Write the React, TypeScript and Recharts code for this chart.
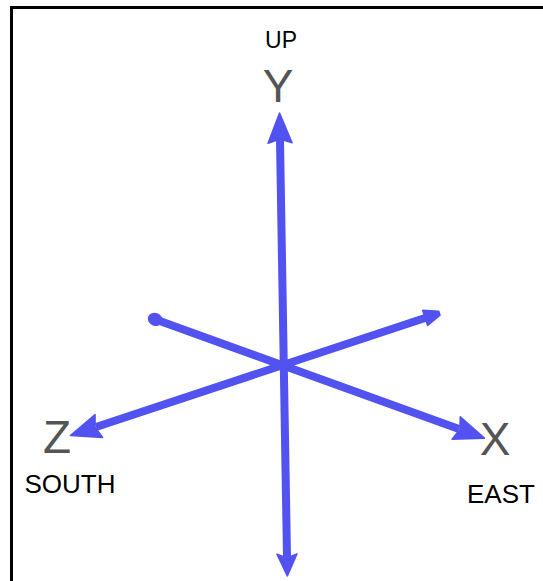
import React from 'react';
import { ComposedChart, Line, Scatter, XAxis, YAxis } from 'recharts';

// Axis segments (data space matches the 543x581 frame)
const upDownAxis = [
  { x: 280, y: 140 },
  { x: 287, y: 557 },
];
const eastAxis = [
  { x: 157, y: 320 },
  { x: 459, y: 429 },
];
const southAxis = [
  { x: 428, y: 317 },
  { x: 96, y: 427 },
];

// Direction words
const directionLabels = [
  { text: 'UP', x: 281, y: 48 },
  { text: 'SOUTH', x: 70, y: 493 },
  { text: 'EAST', x: 501, y: 503 },
];

// Axis letters
const axisLetters = [
  { text: 'Y', x: 278, y: 102 },
  { text: 'Z', x: 57, y: 453 },
  { text: 'X', x: 495, y: 455 },
];

const BLUE = '#5252f0';
const W = 543;
const H = 581;

const WordShape = (p: any) => (
  <text
    x={p.cx}
    y={p.cy}
    textAnchor="middle"
    fontFamily="'Liberation Sans', Arial, sans-serif"
    fontSize={p.payload.text === 'UP' ? 23 : 26}
    fill="#000"
  >
    {p.payload.text}
  </text>
);

const LetterShape = (p: any) => (
  <text
    x={p.cx}
    y={p.cy}
    textAnchor="middle"
    fontFamily="'Liberation Sans', Arial, sans-serif"
    fontSize={46}
    fill="#555"
  >
    {p.payload.text}
  </text>
);

export default function App() {
  return (
    <div style={{ position: 'absolute', left: 0, top: 0, width: W, height: H, background: '#fff', overflow: 'hidden' }}>
      <svg width={0} height={0} style={{ position: 'absolute' }}>
        <defs>
          <marker id="bigHead" markerUnits="userSpaceOnUse" markerWidth={32} markerHeight={26} refX={3} refY={12} orient="auto-start-reverse" style={{ overflow: 'visible' }}>
            <path d="M0,0 L30,12 L0,24 L4,12 Z" fill={BLUE} stroke={BLUE} strokeWidth={1.5} strokeLinejoin="round" />
          </marker>
          <marker id="smallHead" markerUnits="userSpaceOnUse" markerWidth={24} markerHeight={22} refX={3} refY={10} orient="auto-start-reverse" style={{ overflow: 'visible' }}>
            <path d="M0,0 L22,10 L0,20 L4,10 Z" fill={BLUE} stroke={BLUE} strokeWidth={1.5} strokeLinejoin="round" />
          </marker>
          <marker id="tinyHead" markerUnits="userSpaceOnUse" markerWidth={18} markerHeight={16} refX={3} refY={8} orient="auto-start-reverse" style={{ overflow: 'visible' }}>
            <path d="M0,0 L15,6 L15,10 L0,16 Z" fill={BLUE} stroke={BLUE} strokeWidth={1.5} strokeLinejoin="round" />
          </marker>
          <marker id="blob" markerUnits="userSpaceOnUse" markerWidth={16} markerHeight={16} refX={8} refY={8} orient="auto" style={{ overflow: 'visible' }}>
            <ellipse cx={6} cy={8} rx={7.5} ry={6.5} fill={BLUE} />
          </marker>
        </defs>
      </svg>
      <div
        style={{
          position: 'absolute',
          left: 10,
          top: 6,
          width: W - 10,
          height: H - 6,
          borderLeft: '3px solid #000',
          borderTop: '3px solid #000',
          boxSizing: 'border-box',
        }}
      />
      <div style={{ position: 'absolute', left: 0, top: 0 }}>
        <ComposedChart width={W} height={H} margin={{ top: 0, right: 0, bottom: 0, left: 0 }}>
          <XAxis type="number" dataKey="x" domain={[0, W]} hide allowDataOverflow />
          <YAxis type="number" dataKey="y" domain={[0, H]} reversed hide allowDataOverflow />
          <Line
            data={eastAxis}
            dataKey="y"
            type="linear"
            stroke={BLUE}
            strokeWidth={8}
            dot={false}
            activeDot={false}
            isAnimationActive={false}
            markerStart="url(#blob)"
            markerEnd="url(#bigHead)"
          />
          <Line
            data={southAxis}
            dataKey="y"
            type="linear"
            stroke={BLUE}
            strokeWidth={8}
            dot={false}
            activeDot={false}
            isAnimationActive={false}
            markerStart="url(#tinyHead)"
            markerEnd="url(#bigHead)"
          />
          <Line
            data={upDownAxis}
            dataKey="y"
            type="linear"
            stroke={BLUE}
            strokeWidth={8}
            dot={false}
            activeDot={false}
            isAnimationActive={false}
            markerStart="url(#bigHead)"
            markerEnd="url(#smallHead)"
          />
          <Scatter data={directionLabels} shape={WordShape} isAnimationActive={false} />
          <Scatter data={axisLetters} shape={LetterShape} isAnimationActive={false} />
        </ComposedChart>
      </div>
    </div>
  );
}
